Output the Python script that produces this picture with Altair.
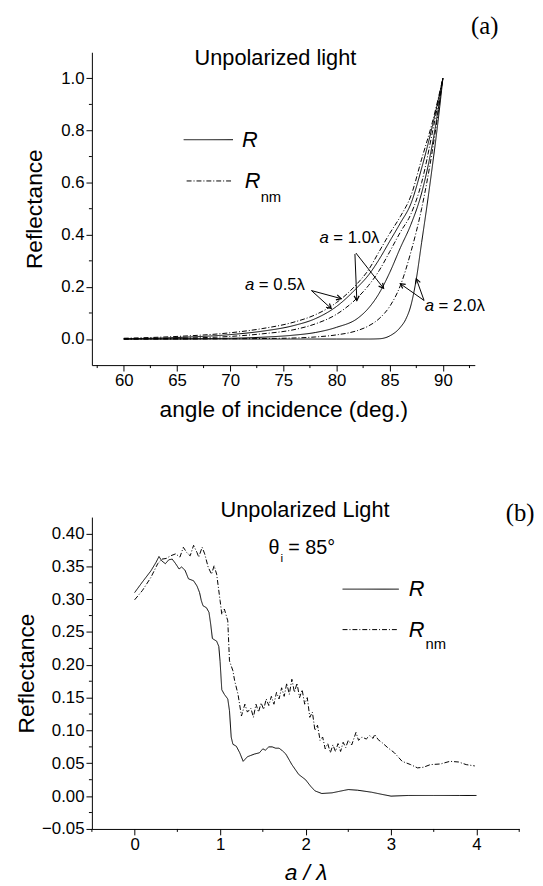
import math
import altair as alt
import pandas as pd

FONT = "Liberation Sans"
SERIF = "Liberation Serif"

# ---------------- Panel (a) data ----------------
theta_grid = [60, 65, 70, 73, 76, 78, 80, 82, 83, 84, 85, 86, 87, 88, 89, 90]
R_05_nm = [0.003, 0.010, 0.024, 0.040, 0.065, 0.093, 0.140, 0.215, 0.265, 0.335, 0.405, 0.470, 0.550, 0.690, 0.830, 1.0]
R_05 = [0.001, 0.006, 0.017, 0.030, 0.052, 0.078, 0.125, 0.200, 0.245, 0.305, 0.375, 0.445, 0.520, 0.655, 0.815, 1.0]
R_10_nm = [0.000, 0.003, 0.010, 0.020, 0.036, 0.058, 0.095, 0.160, 0.205, 0.262, 0.335, 0.410, 0.480, 0.600, 0.790, 1.0]
R_10 = [0.000, 0.001, 0.003, 0.007, 0.015, 0.025, 0.045, 0.080, 0.118, 0.175, 0.255, 0.350, 0.440, 0.560, 0.745, 1.0]
R_20_nm = [0.000, 0.000, 0.001, 0.002, 0.004, 0.008, 0.016, 0.033, 0.050, 0.078, 0.125, 0.205, 0.335, 0.500, 0.720, 1.0]
theta_20 = [60, 80, 83, 84, 85, 86, 86.5, 87, 87.5, 88, 88.5, 89, 89.5, 90]
R_20 = [0.000, 0.000, 0.000, 0.001, 0.012, 0.045, 0.075, 0.130, 0.230, 0.370, 0.510, 0.660, 0.820, 1.0]

x_ticks_a = [60, 65, 70, 75, 80, 85, 90]
x_minor_a = [57.5, 62.5, 67.5, 72.5, 77.5, 82.5, 87.5, 92.5]
y_ticks_a = [0.0, 0.2, 0.4, 0.6, 0.8, 1.0]
y_minor_a = [0.1, 0.3, 0.5, 0.7, 0.9]

# annotation labels (data coords: theta, R)
ann_labels = ["a = 0.5λ", "a = 1.0λ", "a = 2.0λ"]
ann_x = [71.4, 78.4, 88.3]
ann_y = [0.208, 0.386, 0.125]
# arrows: start -> end (data coords)
arr_x0 = [77.64, 77.64, 81.73, 81.82, 88.23, 88.23]
arr_y0 = [0.186, 0.186, 0.326, 0.330, 0.148, 0.148]
arr_x1 = [80.43, 79.50, 81.91, 84.42, 86.00, 87.50]
arr_y1 = [0.155, 0.117, 0.148, 0.195, 0.212, 0.231]

# ---------------- Panel (b) data ----------------
a_R = [0, 0.09, 0.19, 0.25, 0.285, 0.32, 0.36, 0.40, 0.44, 0.48, 0.52, 0.55, 0.59, 0.63, 0.69,
       0.73, 0.76, 0.78, 0.80, 0.84, 0.87, 0.89, 0.91, 0.96, 0.985, 1.0, 1.02, 1.05, 1.09, 1.11,
       1.13, 1.15, 1.19, 1.23, 1.27, 1.32, 1.36, 1.40, 1.46, 1.50, 1.53, 1.57, 1.61, 1.65, 1.69,
       1.73, 1.77, 1.84, 1.92, 2.0, 2.06, 2.11, 2.19, 2.31, 2.46, 2.5, 2.61, 2.77, 2.92, 3.0,
       3.2, 3.5, 3.8, 4.0]
R_b = [0.310, 0.326, 0.343, 0.356, 0.365, 0.358, 0.354, 0.360, 0.361, 0.354, 0.346, 0.349, 0.344, 0.331, 0.328,
       0.320, 0.310, 0.298, 0.290, 0.287, 0.280, 0.262, 0.240, 0.236, 0.228, 0.205, 0.162, 0.155, 0.148, 0.130,
       0.090, 0.079, 0.076, 0.066, 0.053, 0.060, 0.062, 0.064, 0.066, 0.072, 0.070, 0.075, 0.075, 0.073, 0.073,
       0.069, 0.064, 0.048, 0.033, 0.025, 0.015, 0.008, 0.004, 0.005, 0.009, 0.010, 0.009, 0.006, 0.002, 0.000,
       0.001, 0.001, 0.001, 0.001]
a_N = [0, 0.09, 0.19, 0.27, 0.32, 0.37, 0.42, 0.48, 0.53, 0.57, 0.61, 0.65, 0.69, 0.73, 0.75,
       0.79, 0.82, 0.86, 0.90, 0.93, 0.96, 1.00, 1.02, 1.05, 1.09, 1.11, 1.15, 1.17, 1.21, 1.25,
       1.29, 1.32, 1.36, 1.39, 1.42, 1.45, 1.48, 1.51, 1.54, 1.57, 1.60, 1.63, 1.66, 1.69, 1.72,
       1.75, 1.78, 1.81, 1.84, 1.87, 1.90, 1.93, 1.96, 1.99, 2.02, 2.05, 2.08, 2.11, 2.14, 2.17,
       2.20, 2.23, 2.26, 2.29, 2.32, 2.35, 2.38, 2.41, 2.44, 2.47, 2.50, 2.54, 2.59, 2.62, 2.66,
       2.71, 2.75, 2.79, 2.81, 2.85, 2.90, 2.96, 3.04, 3.13, 3.23, 3.31, 3.38, 3.46, 3.58, 3.69,
       3.79, 3.88, 3.98]
R_nm_b = [0.299, 0.313, 0.333, 0.354, 0.361, 0.362, 0.366, 0.369, 0.364, 0.379, 0.371, 0.366, 0.382, 0.371, 0.364,
          0.379, 0.369, 0.349, 0.338, 0.351, 0.338, 0.298, 0.277, 0.285, 0.267, 0.206, 0.191, 0.176, 0.155, 0.122,
          0.140, 0.128, 0.134, 0.120, 0.140, 0.128, 0.142, 0.132, 0.148, 0.138, 0.152, 0.140, 0.158, 0.148, 0.165,
          0.152, 0.172, 0.155, 0.178, 0.158, 0.172, 0.150, 0.162, 0.140, 0.150, 0.120, 0.128, 0.100, 0.108, 0.085,
          0.090, 0.072, 0.080, 0.066, 0.078, 0.068, 0.080, 0.068, 0.082, 0.074, 0.085, 0.078, 0.097, 0.085, 0.090,
          0.087, 0.092, 0.088, 0.094, 0.086, 0.081, 0.074, 0.066, 0.053, 0.048, 0.043, 0.044, 0.048, 0.049, 0.053,
          0.052, 0.048, 0.046]

x_ticks_b = [0, 1, 2, 3, 4]
x_minor_b = [-0.5, 0.5, 1.5, 2.5, 3.5, 4.5]
y_ticks_b = [-0.05, 0.0, 0.05, 0.10, 0.15, 0.20, 0.25, 0.30, 0.35, 0.40]
y_minor_b = [-0.025, 0.025, 0.075, 0.125, 0.175, 0.225, 0.275, 0.325, 0.375]

# ---------------- layout ----------------
W1, H1 = 388, 317
W2, H2 = 433, 316
XD_A, YD_A = [57, 93], [-0.1, 1.1]
XD_B, YD_B = [-0.5, 4.5], [-0.05, 0.425]
DASH = [5, 2, 1, 2]
ARROW = "M-0.55,1L0,0L0.55,1"


def txt(s, x, y, size, align="left", style="normal", font=FONT, baseline="middle"):
    return alt.Chart(pd.DataFrame({"t": [s]})).mark_text(
        align=align, baseline=baseline, fontSize=size, fontStyle=style, font=font, color="black"
    ).encode(x=alt.value(x), y=alt.value(y), text="t:N")


def hline(x0, x1, y, dash):
    return alt.Chart(pd.DataFrame({"k": [0]})).mark_rule(
        color="black", strokeWidth=1, strokeDash=dash
    ).encode(x=alt.value(x0), x2=alt.value(x1), y=alt.value(y))


# ---------------- Panel (a) ----------------
rows = []
for name, kind, xs, ys in [
    ("0.5 Rnm", "Rnm", theta_grid, R_05_nm), ("0.5 R", "R", theta_grid, R_05),
    ("1.0 Rnm", "Rnm", theta_grid, R_10_nm), ("1.0 R", "R", theta_grid, R_10),
    ("2.0 Rnm", "Rnm", theta_grid, R_20_nm), ("2.0 R", "R", theta_20, R_20),
]:
    for xv, yv in zip(xs, ys):
        rows.append({"theta": xv, "R": yv, "curve": name, "kind": kind})
dfa = pd.DataFrame(rows)

xsc_a = alt.Scale(domain=XD_A, nice=False, zero=False)
ysc_a = alt.Scale(domain=YD_A, nice=False, zero=False)
xax_a = alt.Axis(values=x_ticks_a, format="d", title="angle of incidence (deg.)", titlePadding=10)
yax_a = alt.Axis(values=y_ticks_a, format=".1f", title="Reflectance", titlePadding=14)


def XA(f):
    return alt.X(f, type="quantitative", scale=xsc_a, axis=xax_a)


def YA(f):
    return alt.Y(f, type="quantitative", scale=ysc_a, axis=yax_a)


lines_a = alt.Chart(dfa).mark_line(color="black", strokeWidth=1, interpolate="monotone").encode(
    x=XA("theta"), y=YA("R"),
    detail="curve:N",
    strokeDash=alt.StrokeDash("kind:N", scale=alt.Scale(domain=["R", "Rnm"], range=[[1, 0], DASH]), legend=None),
)
mxa = alt.Chart(pd.DataFrame({"theta": x_minor_a})).mark_rule(color="black", strokeWidth=1).encode(
    x=XA("theta"), y=alt.value(H1), y2=alt.value(H1 + 3))
mya = alt.Chart(pd.DataFrame({"R": y_minor_a})).mark_rule(color="black", strokeWidth=1).encode(
    y=YA("R"), x=alt.value(0), x2=alt.value(-3))

kx_a = W1 / (XD_A[1] - XD_A[0])
ky_a = H1 / (YD_A[1] - YD_A[0])
arr = pd.DataFrame({"theta": arr_x0, "R": arr_y0, "x1": arr_x1, "y1": arr_y1})
arr["ang"] = [
    math.degrees(math.atan2((r.x1 - r.theta) * kx_a, (r.y1 - r.R) * ky_a)) % 360 for r in arr.itertuples()
]
arrow_lines = alt.Chart(arr).mark_rule(color="black", strokeWidth=1).encode(
    x=XA("theta"), y=YA("R"), x2="x1:Q", y2="y1:Q")
heads = arr[["x1", "y1", "ang"]].rename(columns={"x1": "theta", "y1": "R"})
arrow_heads = alt.Chart(heads).mark_point(shape=ARROW, filled=False, color="black", size=90,
                                          strokeWidth=1.2, opacity=1).encode(
    x=XA("theta"), y=YA("R"), angle=alt.Angle("ang:Q", scale=None))

ann = pd.DataFrame({"theta": ann_x, "R": ann_y, "a": ["a"] * 3, "rest": [s[2:] for s in ann_labels]})
ann_a = alt.Chart(ann).mark_text(align="left", baseline="middle", fontSize=17, fontStyle="italic",
                                 font=FONT, color="black").encode(x=XA("theta"), y=YA("R"), text="a:N")
ann_rest = alt.Chart(ann).mark_text(align="left", baseline="middle", fontSize=17, dx=14,
                                    font=FONT, color="black").encode(x=XA("theta"), y=YA("R"), text="rest:N")

top = alt.layer(
    lines_a, mxa, mya, arrow_lines, arrow_heads, ann_a, ann_rest,
    hline(93, 143, 88.6, [1, 0]), txt("R", 152, 89, 22, style="italic"),
    hline(96, 143, 130.4, DASH), txt("R", 155, 131, 22, style="italic"), txt("nm", 171, 147, 15),
    txt("Unpolarized light", 186, 6, 22, align="center"),
    txt("(a)", 398, -27, 25, align="center", font=SERIF),
).properties(width=W1, height=H1)

# ---------------- Panel (b) ----------------
dfb = pd.concat([
    pd.DataFrame({"a": a_R, "R": R_b, "kind": "R"}),
    pd.DataFrame({"a": a_N, "R": R_nm_b, "kind": "Rnm"}),
])
xsc_b = alt.Scale(domain=XD_B, nice=False, zero=False)
ysc_b = alt.Scale(domain=YD_B, nice=False, zero=False)
xax_b = alt.Axis(values=x_ticks_b, format="d", title="a / λ", titleFontStyle="italic", titlePadding=9)
yax_b = alt.Axis(values=y_ticks_b, format=".2f", title="Reflectance", titlePadding=3)


def XB(f):
    return alt.X(f, type="quantitative", scale=xsc_b, axis=xax_b)


def YB(f):
    return alt.Y(f, type="quantitative", scale=ysc_b, axis=yax_b)


lines_b = alt.Chart(dfb).mark_line(color="black", strokeWidth=1).encode(
    x=XB("a"), y=YB("R"),
    detail="kind:N",
    strokeDash=alt.StrokeDash("kind:N", scale=alt.Scale(domain=["R", "Rnm"], range=[[1, 0], DASH]), legend=None),
)
mxb = alt.Chart(pd.DataFrame({"a": x_minor_b})).mark_rule(color="black", strokeWidth=1).encode(
    x=XB("a"), y=alt.value(H2), y2=alt.value(H2 + 3))
myb = alt.Chart(pd.DataFrame({"R": y_minor_b})).mark_rule(color="black", strokeWidth=1).encode(
    y=YB("R"), x=alt.value(0), x2=alt.value(-3))

bottom = alt.layer(
    lines_b, mxb, myb,
    hline(254, 311, 73, [1, 0]), txt("R", 321, 73, 22, style="italic"),
    hline(254, 311, 114, DASH), txt("R", 321, 114, 22, style="italic"), txt("nm", 338, 129, 15),
    txt("Unpolarized Light", 216, -7, 22, align="center"),
    txt("θ", 190, 31, 20, align="right"), txt("i", 191, 41, 12), txt("= 85°", 199, 31, 20),
    txt("(b)", 434, -4, 25, align="center", font=SERIF),
).properties(width=W2, height=H2)

chart = alt.vconcat(top, bottom, spacing=79).properties(
    padding={"left": 7, "top": 0, "right": 0, "bottom": 0},
    background="white",
).configure_view(stroke=None).configure_axis(
    domainColor="black", tickColor="black", labelColor="black", titleColor="black",
    labelFont=FONT, titleFont=FONT, labelFontSize=17, titleFontSize=23, titleFontWeight="normal",
    grid=False, tickSize=6, domainWidth=1, tickWidth=1, labelPadding=2,
)

chart.save("out.html", embed_options={"renderer": "svg", "actions": False})
